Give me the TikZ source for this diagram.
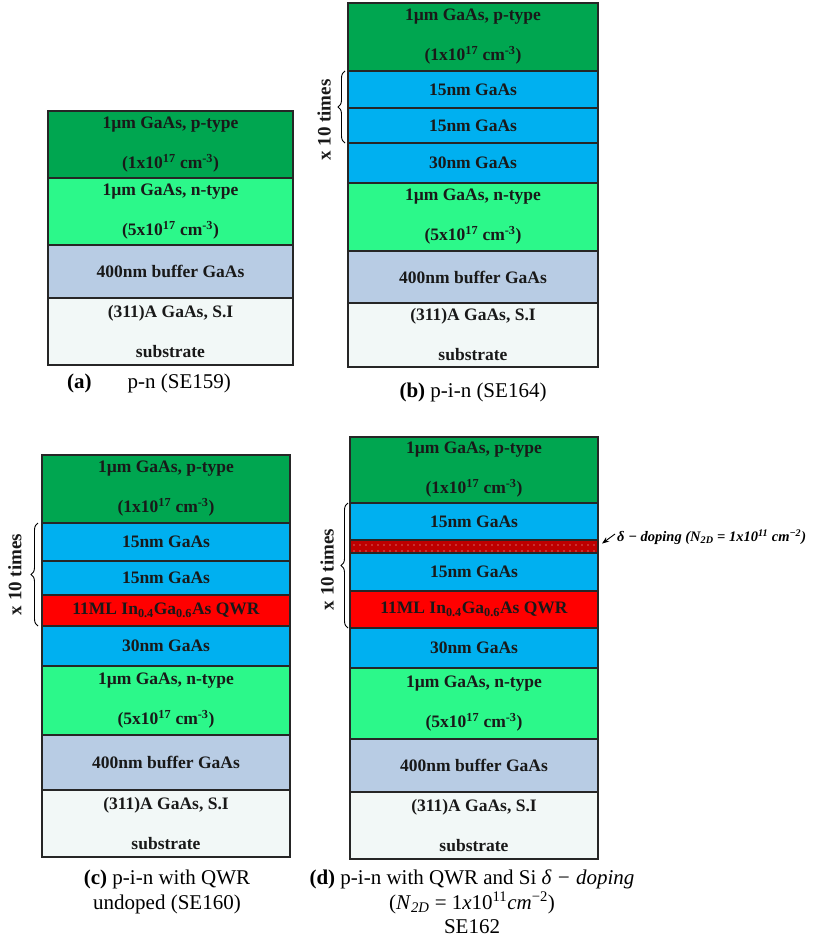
\documentclass[tikz,border=0pt]{standalone}
\usepackage{fontspec}
\setmainfont{Liberation Serif}
\usetikzlibrary{arrows.meta,positioning,decorations.pathreplacing,patterns.meta}
\definecolor{pgreen}{RGB}{0,166,80}
\definecolor{ngreen}{RGB}{44,248,138}
\definecolor{wellblue}{RGB}{0,176,240}
\definecolor{qwrred}{RGB}{255,0,0}
\definecolor{dopered}{RGB}{190,0,0}
\definecolor{buffergray}{RGB}{184,204,228}
\definecolor{subswhite}{RGB}{242,248,247}
\tikzset{
  layer/.style={draw=black!85, line width=1.2pt, inner sep=0pt, outer sep=0pt, align=center,
    text=black!90, font=\fontsize{17.5}{20}\selectfont\bfseries},
  ptype/.style={layer, fill=pgreen, minimum height=68pt},
  ntype/.style={layer, fill=ngreen, minimum height=68pt},
  well/.style={layer, fill=wellblue, minimum height=37pt},
  qwr/.style={layer, fill=qwrred, minimum height=33pt},
  dopelayer/.style={layer, minimum height=13pt, preaction={fill=dopered},
    pattern={Dots[radius=0.6pt, distance=6pt]}, pattern color=white!80!dopered},
  buffer/.style={layer, fill=buffergray, minimum height=53pt},
  subs/.style={layer, fill=subswhite, minimum height=66pt},
  repbrace/.style={decorate, decoration={brace, amplitude=7pt}, line width=0.9pt},
  reptext/.style={rotate=90, text=black!90, font=\fontsize{19}{22}\selectfont\bfseries},
  caption/.style={align=center, inner sep=0pt, font=\fontsize{21}{24.5}\selectfont},
  doplabel/.style={anchor=west, inner sep=0pt, font=\fontsize{14.5}{16}\selectfont\bfseries\itshape},
}

\begin{document}
\begin{tikzpicture}[x=1pt, y=-1pt]
    \useasboundingbox (0,0) rectangle (813,947);

    % (a) p-n
    \begin{scope}[layer/.append style={minimum width=245pt}]
    \node[ptype, minimum height=67pt, anchor=north] (a1) at (170.5,111) {1µm GaAs, p-type\\[20pt](1x10\textsuperscript{17} cm\textsuperscript{-3})};
    \node[ntype, minimum height=67pt, below=0pt of a1] (a2) {1µm GaAs, n-type\\[20pt](5x10\textsuperscript{17} cm\textsuperscript{-3})};
    \node[buffer, below=0pt of a2] (a3) {400nm buffer GaAs};
    \node[subs, minimum height=67pt, below=0pt of a3] (a4) {(311)A GaAs, S.I\\[20pt]substrate};
    \end{scope}
    \node[caption, anchor=west] (acap) at (67,383) {\textbf{(a)}\hspace{36pt}p-n (SE159)};

    % (b) p-i-n
    \begin{scope}[layer/.append style={minimum width=250pt}]
    \node[ptype, anchor=north] (b1) at (473,3) {1µm GaAs, p-type\\[20pt](1x10\textsuperscript{17} cm\textsuperscript{-3})};
    \node[well, below=0pt of b1] (b2) {15nm GaAs};
    \node[well, minimum height=35pt, below=0pt of b2] (b3) {15nm GaAs};
    \node[well, minimum height=40pt, below=0pt of b3] (b4) {30nm GaAs};
    \node[ntype, below=0pt of b4] (b5) {1µm GaAs, n-type\\[20pt](5x10\textsuperscript{17} cm\textsuperscript{-3})};
    \node[buffer, minimum height=52pt, below=0pt of b5] (b6) {400nm buffer GaAs};
    \node[subs, minimum height=64pt, below=0pt of b6] (b7) {(311)A GaAs, S.I\\[20pt]substrate};
    \end{scope}
    \draw[repbrace] ([xshift=-3pt]b3.south west) -- ([xshift=-3pt]b2.north west)
        node[midway, xshift=-21pt, yshift=-13pt, reptext] (btimes) {x 10 times};
    \node[caption] (bcap) at (473,392) {\textbf{(b)} p-i-n (SE164)};

    % (c) p-i-n with QWR
    \begin{scope}[layer/.append style={minimum width=248pt}]
    \node[ptype, anchor=north] (c1) at (166,455) {1µm GaAs, p-type\\[20pt](1x10\textsuperscript{17} cm\textsuperscript{-3})};
    \node[well, minimum height=38pt, below=0pt of c1] (c2) {15nm GaAs};
    \node[well, minimum height=34pt, below=0pt of c2] (c3) {15nm GaAs};
    \node[qwr, minimum height=31pt, below=0pt of c3] (c4) {11ML In\textsubscript{0.4}Ga\textsubscript{0.6}As QWR};
    \node[well, minimum height=40pt, below=0pt of c4] (c5) {30nm GaAs};
    \node[ntype, minimum height=69pt, below=0pt of c5] (c6) {1µm GaAs, n-type\\[20pt](5x10\textsuperscript{17} cm\textsuperscript{-3})};
    \node[buffer, minimum height=55pt, below=0pt of c6] (c7) {400nm buffer GaAs};
    \node[subs, minimum height=67pt, below=0pt of c7] (c8) {(311)A GaAs, S.I\\[20pt]substrate};
    \end{scope}
    \draw[repbrace] ([xshift=-4pt]c4.south west) -- ([xshift=-4pt]c2.north west)
        node[midway, xshift=-23pt, reptext] (ctimes) {x 10 times};
    \node[caption, anchor=north] (ccap) at (167,870) {\textbf{(c)} p-i-n with QWR\\undoped (SE160)};

    % (d) p-i-n with QWR and Si delta-doping
    \begin{scope}[layer/.append style={minimum width=248pt}]
    \node[ptype, minimum height=66pt, anchor=north] (d1) at (474,437) {1µm GaAs, p-type\\[20pt](1x10\textsuperscript{17} cm\textsuperscript{-3})};
    \node[well, below=0pt of d1] (d2) {15nm GaAs};
    \node[dopelayer, below=0pt of d2] (d3) {};
    \node[well, minimum height=38pt, below=0pt of d3] (d4) {15nm GaAs};
    \node[qwr, minimum height=37pt, below=0pt of d4] (d5) {11ML In\textsubscript{0.4}Ga\textsubscript{0.6}As QWR};
    \node[well, minimum height=40pt, below=0pt of d5] (d6) {30nm GaAs};
    \node[ntype, minimum height=71pt, below=0pt of d6] (d7) {1µm GaAs, n-type\\[20pt](5x10\textsuperscript{17} cm\textsuperscript{-3})};
    \node[buffer, below=0pt of d7] (d8) {400nm buffer GaAs};
    \node[subs, minimum height=67pt, below=0pt of d8] (d9) {(311)A GaAs, S.I\\[20pt]substrate};
    \end{scope}
    \draw[repbrace] ([xshift=-2pt]d5.south west) -- ([xshift=-2pt]d2.north west)
        node[midway, xshift=-21pt, yshift=-4pt, reptext] (dtimes) {x 10 times};
    \node[doplabel] (dlabel) at (617,537) {δ − doping (N\textsubscript{2D} = 1x10\textsuperscript{11} cm\textsuperscript{−2})};
    \draw[-{Stealth[length=7pt]}, line width=0.9pt, shorten >=5pt] ([xshift=-2pt,yshift=3pt]dlabel.west) -- (d3.east);
    \node[caption, anchor=north] (dcap) at (472,870) {\textbf{(d)} p-i-n with QWR and Si \textit{δ − doping}\\(\textit{N}\textsubscript{\textit{2D}} = 1\textit{x}10\textsuperscript{11}\textit{cm}\textsuperscript{−2})\\SE162};
\end{tikzpicture}
\end{document}
